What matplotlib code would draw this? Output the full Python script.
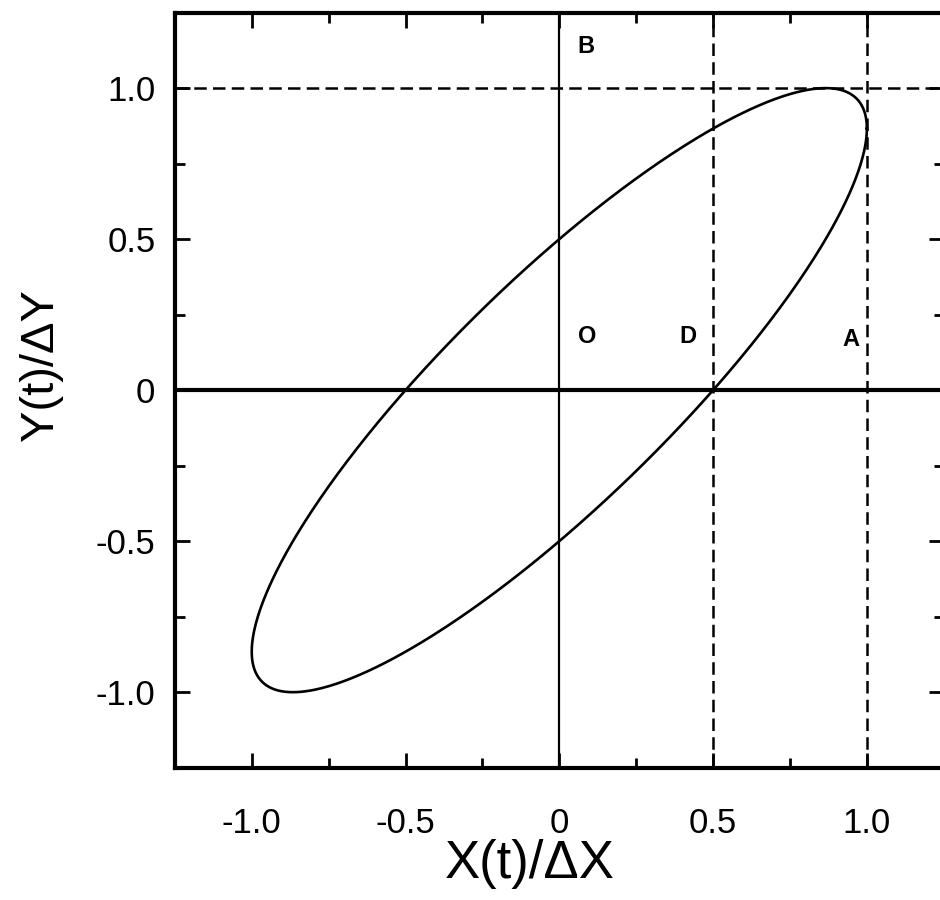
import numpy as np
import matplotlib
matplotlib.use("Agg")
import matplotlib.pyplot as plt
from matplotlib.ticker import MultipleLocator

plt.rcParams['font.family'] = ['Liberation Sans', 'DejaVu Sans']

# normalised oscillation amplitudes and phase lag between the two channels
amp_x = 1.0
amp_y = 1.0
phase_deg = 30.0

tick_values = [-1.0, -0.5, 0.0, 0.5, 1.0]
tick_labels = ['-1.0', '-0.5', '0', '0.5', '1.0']

# dashed guide lines
guide_x = [0.5, 1.0]
guide_y = [1.0]

# point labels and where they sit
point_names = ['B', 'O', 'D', 'A']
point_x = [0.06, 0.06, 0.39, 0.92]
point_y = [1.10, 0.14, 0.14, 0.13]


def main():
    t = np.linspace(0, 2 * np.pi, 721)
    phi = np.deg2rad(phase_deg)
    x = amp_x * np.cos(t)
    y = amp_y * np.cos(t - phi)

    fig = plt.figure(figsize=(9.4, 9.0), dpi=100)
    ax = fig.add_axes([0.186, 0.147, 0.818, 0.839])

    ax.axhline(0, color='black', lw=3.0, zorder=2)
    ax.axvline(0, color='black', lw=1.6, zorder=2)
    for gx in guide_x:
        ax.axvline(gx, color='black', lw=1.8, ls=(0, (5, 2.5)), zorder=2)
    for gy in guide_y:
        ax.axhline(gy, color='black', lw=1.8, ls=(0, (5, 2.5)), zorder=2)

    ax.plot(x, y, color='black', lw=1.9, zorder=3)

    for name, px, py in zip(point_names, point_x, point_y):
        ax.text(px, py, name, fontsize=17, fontweight='bold',
                ha='left', va='bottom')

    ax.set_xlim(-1.25, 1.25)
    ax.set_ylim(-1.25, 1.25)
    ax.set_xticks(tick_values)
    ax.set_xticklabels(tick_labels)
    ax.set_yticks(tick_values)
    ax.set_yticklabels(tick_labels)
    ax.xaxis.set_minor_locator(MultipleLocator(0.25))
    ax.yaxis.set_minor_locator(MultipleLocator(0.25))
    ax.tick_params(which='both', direction='in', top=True, right=True,
                   width=2.0, labelsize=25)
    ax.tick_params(which='major', length=11)
    ax.tick_params(which='minor', length=7)
    ax.tick_params(axis='x', pad=28)
    ax.tick_params(axis='y', pad=14)

    for side in ['left', 'bottom', 'top', 'right']:
        ax.spines[side].set_linewidth(3.0)

    ax.set_xlabel('X(t)/ΔX', fontsize=38)
    ax.set_ylabel('Y(t)/ΔY', fontsize=34)
    ax.xaxis.set_label_coords(0.461, -0.095)
    ax.yaxis.set_label_coords(-0.145, 0.533)

    fig.savefig('out.png', dpi=100)
    plt.close(fig)


if __name__ == "__main__":
    main()
